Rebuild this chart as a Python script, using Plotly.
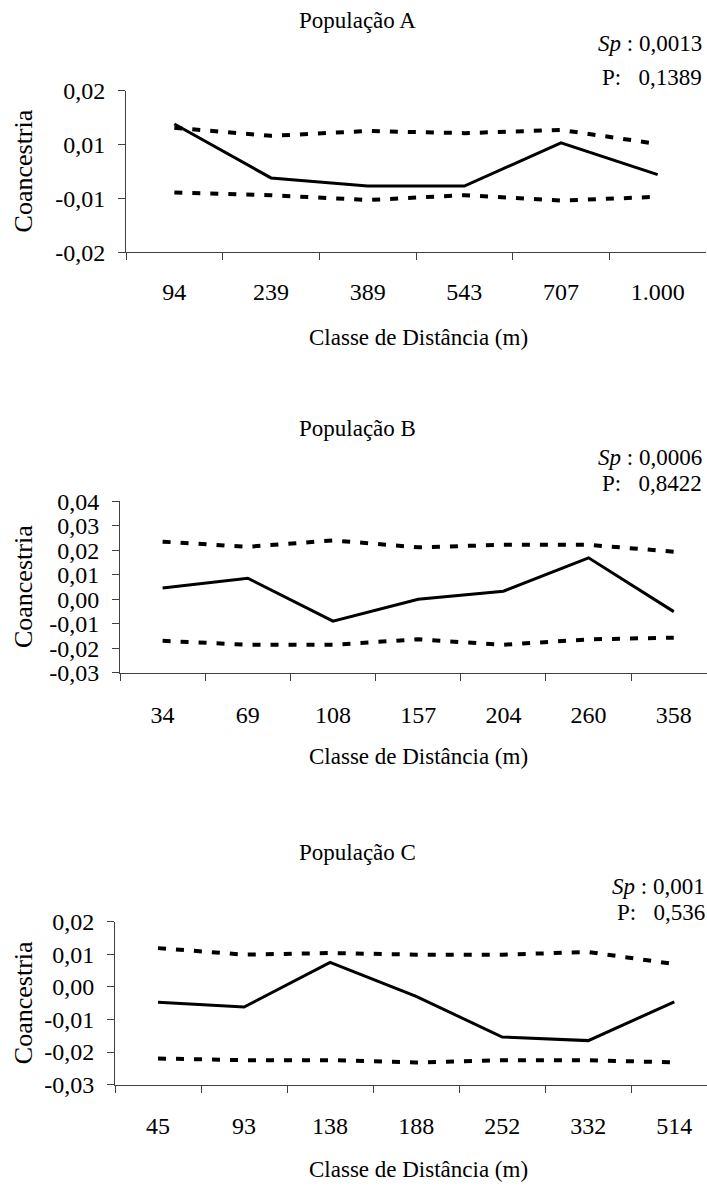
import plotly.graph_objects as go

W, H = 707, 1186
FONT = "Liberation Serif, Times New Roman, serif"

# ---------------- data ----------------
dist_a = ["94", "239", "389", "543", "707", "1.000"]
obs_a = [0.0088, -0.0012, -0.0027, -0.0027, 0.0053, -0.0006]
up_a = [0.0081, 0.0066, 0.0075, 0.0071, 0.0077, 0.0051]
lo_a = [-0.0039, -0.0044, -0.0053, -0.0044, -0.0054, -0.0047]
ytick_a = [-0.015, -0.005, 0.005, 0.015]
ytxt_a = ["-0,02", "-0,01", "0,01", "0,02"]

dist_b = ["34", "69", "108", "157", "204", "260", "358"]
obs_b = [0.0046, 0.0086, -0.0089, 0.0000, 0.0033, 0.0169, -0.0050]
up_b = [0.0235, 0.0214, 0.0240, 0.0212, 0.0222, 0.0222, 0.0194]
lo_b = [-0.0169, -0.0185, -0.0185, -0.0163, -0.0185, -0.0163, -0.0156]
ytick_b = [-0.03, -0.02, -0.01, 0.0, 0.01, 0.02, 0.03, 0.04]
ytxt_b = ["-0,03", "-0,02", "-0,01", "0,00", "0,01", "0,02", "0,03", "0,04"]

dist_c = ["45", "93", "138", "188", "252", "332", "514"]
obs_c = [-0.0047, -0.0062, 0.0075, -0.0029, -0.0154, -0.0165, -0.0046]
up_c = [0.0119, 0.0099, 0.0104, 0.0099, 0.0099, 0.0107, 0.0070]
lo_c = [-0.0220, -0.0225, -0.0225, -0.0232, -0.0225, -0.0225, -0.0232]
ytick_c = [-0.03, -0.02, -0.01, 0.0, 0.01, 0.02]
ytxt_c = ["-0,03", "-0,02", "-0,01", "0,00", "0,01", "0,02"]

titles = ["População A", "População B", "População C"]
sp_txt = ["0,0013", "0,0006", "0,001"]
p_txt = ["0,1389", "0,8422", "0,536"]
xtitle = "Classe de Distância (m)"
ytitle = "Coancestria"

# ---------------- layout helpers ----------------
def px_x(x):
    return x / W

def page_y(y):
    # vertical pixel target -> page pixel (compensates the observed capture mapping)
    return (y - 12.4) / 0.979

def px_y(y):
    return 1 - page_y(y) / H

panels = [
    dict(dist=dist_a, obs=obs_a, up=up_a, lo=lo_a, yt=ytick_a, ytt=ytxt_a,
         yr=[-0.015, 0.015], x0=126, x1=706, y0=90, y1=252,
         xr=[-0.5, 5.5], title_y=20, sp_y=43, p_y=77, ann_x=703,
         lab_y=291, xt_y=337),
    dict(dist=dist_b, obs=obs_b, up=up_b, lo=lo_b, yt=ytick_b, ytt=ytxt_b,
         yr=[-0.03, 0.04], x0=120, x1=707, y0=501, y1=673,
         xr=[-0.5, 6.39], title_y=428, sp_y=457, p_y=483, ann_x=703,
         lab_y=714, xt_y=757),
    dict(dist=dist_c, obs=obs_c, up=up_c, lo=lo_c, yt=ytick_c, ytt=ytxt_c,
         yr=[-0.03, 0.02], x0=115, x1=707, y0=922, y1=1085,
         xr=[-0.5, 6.38], title_y=853, sp_y=887, p_y=913, ann_x=706,
         lab_y=1126, xt_y=1170),
]

fig = go.Figure()
annotations = []
AX = "#404040"

for i, p in enumerate(panels, start=1):
    xa = "x" if i == 1 else f"x{i}"
    ya = "y" if i == 1 else f"y{i}"
    fig.add_trace(go.Scatter(x=p["dist"], y=p["up"], xaxis=xa, yaxis=ya, mode="lines",
                             line=dict(color="black", width=4, dash="8px,10px"),
                             showlegend=False, hoverinfo="skip"))
    fig.add_trace(go.Scatter(x=p["dist"], y=p["lo"], xaxis=xa, yaxis=ya, mode="lines",
                             line=dict(color="black", width=4, dash="8px,10px"),
                             showlegend=False, hoverinfo="skip"))
    fig.add_trace(go.Scatter(x=p["dist"], y=p["obs"], xaxis=xa, yaxis=ya, mode="lines",
                             line=dict(color="black", width=3),
                             showlegend=False, hoverinfo="skip"))

    xkey = "xaxis" if i == 1 else f"xaxis{i}"
    ykey = "yaxis" if i == 1 else f"yaxis{i}"
    lab_off = int(round(page_y(p["lab_y"]) - page_y(p["y1"]) - 22))
    fig.update_layout(**{
        xkey: dict(domain=[px_x(p["x0"]), min(px_x(p["x1"]), 1.0)], anchor=ya,
                   type="category", categoryorder="array", categoryarray=p["dist"],
                   range=p["xr"], showline=True, linecolor=AX, linewidth=1,
                   ticks="outside", tickson="boundaries", ticklen=7, tickcolor=AX,
                   tickwidth=1, showgrid=False, zeroline=False,
                   ticklabelstandoff=max(lab_off, 0),
                   tickfont=dict(family=FONT, size=24, color="black")),
        ykey: dict(domain=[px_y(p["y1"]), px_y(p["y0"])], anchor=xa,
                   range=p["yr"], tickvals=p["yt"], ticktext=p["ytt"],
                   showline=True, linecolor=AX, linewidth=1,
                   ticks="outside", ticklen=7, tickcolor=AX, tickwidth=1,
                   showgrid=False, zeroline=False, ticklabelstandoff=8,
                   tickfont=dict(family=FONT, size=24, color="black")),
    })

    annotations.append(dict(text=titles[i - 1], x=px_x(357), y=px_y(p["title_y"]),
                            xref="paper", yref="paper", showarrow=False,
                            xanchor="center", yanchor="middle",
                            font=dict(family=FONT, size=23, color="black")))
    annotations.append(dict(text="<i>Sp</i>\u00a0:\u00a0" + sp_txt[i - 1],
                            x=px_x(p["ann_x"]), y=px_y(p["sp_y"]),
                            xref="paper", yref="paper", showarrow=False,
                            xanchor="right", yanchor="middle", borderpad=0,
                            font=dict(family=FONT, size=23, color="black")))
    annotations.append(dict(text="P:\u00a0\u00a0\u00a0" + p_txt[i - 1],
                            x=px_x(p["ann_x"]), y=px_y(p["p_y"]),
                            xref="paper", yref="paper", showarrow=False,
                            xanchor="right", yanchor="middle", borderpad=0,
                            font=dict(family=FONT, size=23, color="black")))
    annotations.append(dict(text=xtitle, x=px_x(418), y=px_y(p["xt_y"]),
                            xref="paper", yref="paper", showarrow=False,
                            xanchor="center", yanchor="middle",
                            font=dict(family=FONT, size=23, color="black")))
    annotations.append(dict(text=ytitle, x=px_x(23), y=px_y((p["y0"] + p["y1"]) / 2),
                            xref="paper", yref="paper", showarrow=False,
                            textangle=-90, xanchor="center", yanchor="middle",
                            font=dict(family=FONT, size=26, color="black")))

fig.update_layout(width=W, height=H, margin=dict(l=0, r=0, t=0, b=0),
                  paper_bgcolor="white", plot_bgcolor="white",
                  annotations=annotations, showlegend=False)

fig.write_html("out.html", config={"displayModeBar": False},
               post_script="document.body.style.margin='0';document.body.style.overflow='hidden';")
